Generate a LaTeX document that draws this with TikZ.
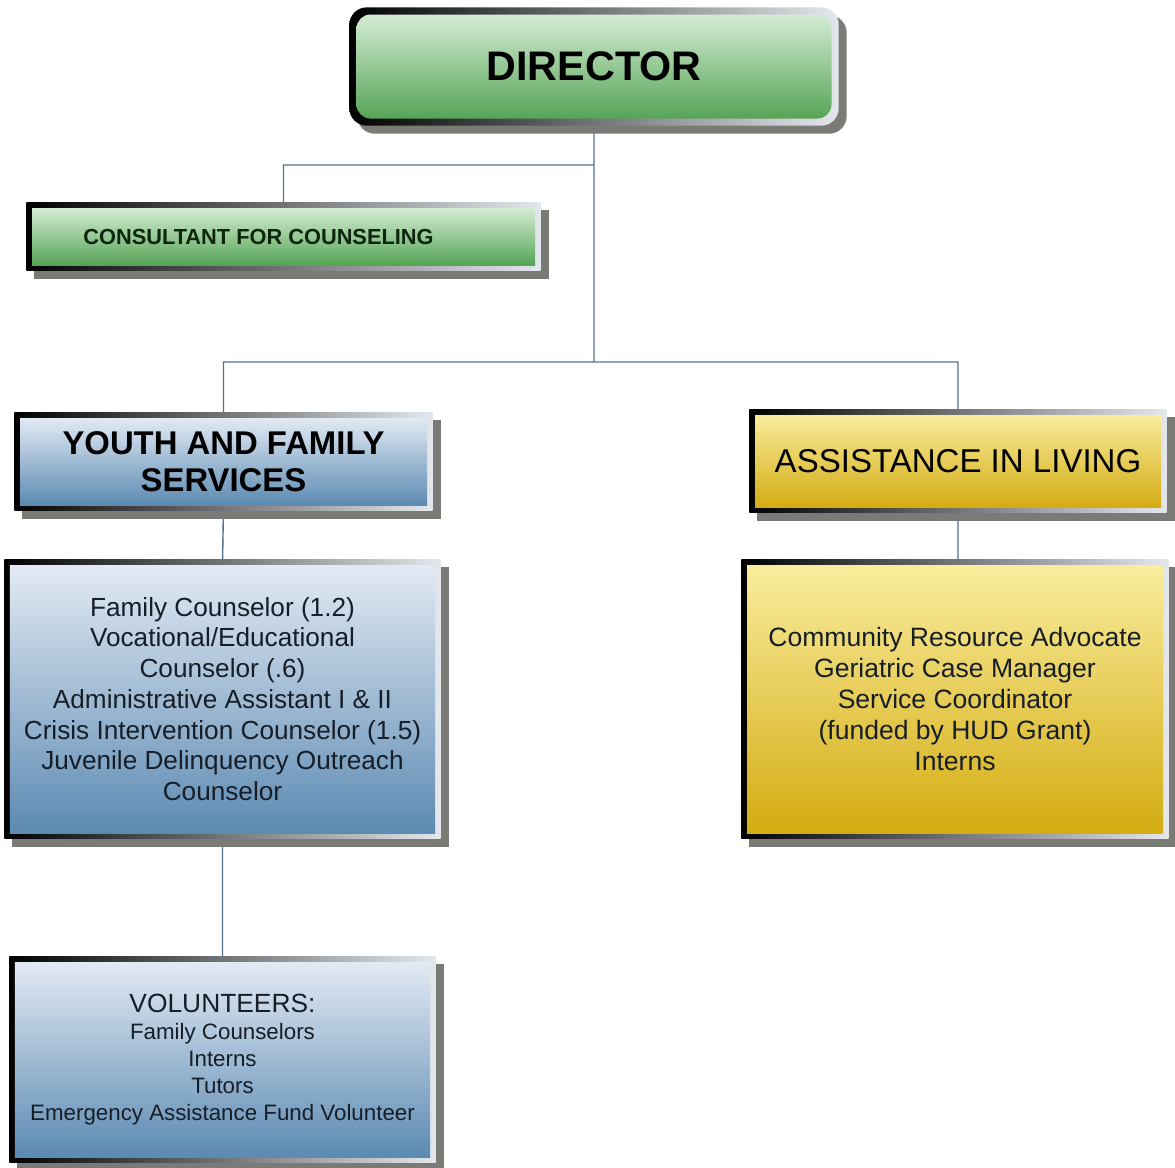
\documentclass[tikz,border=0pt]{standalone}
\usepackage{fontspec}
\setmainfont{Liberation Sans}
\usetikzlibrary{positioning}
\usetikzlibrary{backgrounds}
\usetikzlibrary{calc}

\definecolor{linkblue}{RGB}{84,112,140}
\definecolor{greentop}{RGB}{212,236,212}
\definecolor{greenbot}{RGB}{86,164,86}
\definecolor{bluetop}{RGB}{226,234,244}
\definecolor{bluebot}{RGB}{92,138,178}
\definecolor{yellowtop}{RGB}{249,236,156}
\definecolor{yellowbot}{RGB}{212,172,18}
\definecolor{shadowgray}{RGB}{122,122,118}
\definecolor{framelight}{RGB}{228,232,236}
\definecolor{textdark}{RGB}{22,30,40}
\definecolor{textgreen}{RGB}{14,38,14}

\begin{document}
\begin{tikzpicture}[thick,
  box/.style={rectangle,inner sep=2pt,align=center,text=textdark},
  green box/.style={box,top color=greentop,bottom color=greenbot},
  blue box/.style={box,top color=bluetop,bottom color=bluebot},
  yellow box/.style={box,top color=yellowtop,bottom color=yellowbot},
  link/.style={draw=linkblue,line width=0.8pt}]

  \useasboundingbox (0,0) rectangle (23.5,-23.34);

  % boxes
  \node[green box,rounded corners=8pt,minimum width=9.5cm,minimum height=2.08cm,
    font=\fontsize{23.5}{27}\selectfont\bfseries,text=black] (director) at (11.88,-1.33) {DIRECTOR};
  \node[green box,minimum width=10.06cm,minimum height=1.14cm,
    font=\fontsize{12.4}{14}\selectfont\bfseries,text=textgreen] (consult) at (5.67,-4.73)
    {CONSULTANT FOR COUNSELING\hspace*{1cm}};
  \node[blue box,minimum width=8.14cm,minimum height=1.74cm,
    font=\fontsize{18.7}{20.8}\selectfont\bfseries,text=black] (youth) at (4.47,-9.23) {YOUTH AND FAMILY\\SERVICES};
  \node[yellow box,minimum width=8.12cm,minimum height=1.84cm,
    font=\fontsize{18.8}{21}\selectfont,text=black] (assist) at (19.16,-9.22) {ASSISTANCE IN LIVING};
  \node[blue box,minimum width=8.5cm,minimum height=5.36cm,
    font=\fontsize{14.9}{17.5}\selectfont] (ydetail) at (4.45,-13.98)
    {Family Counselor (1.2)\\Vocational/Educational\\Counselor (.6)\\Administrative Assistant I \& II\\
     Crisis Intervention Counselor (1.5)\\Juvenile Delinquency Outreach\\Counselor};
  \node[yellow box,minimum width=8.32cm,minimum height=5.36cm,
    font=\fontsize{15.1}{17.5}\selectfont] (adetail) at (19.1,-13.98)
    {Community Resource Advocate\\Geriatric Case Manager\\Service Coordinator\\(funded by HUD Grant)\\Interns};
  \node[blue box,minimum width=8.3cm,minimum height=3.9cm,
    font=\fontsize{12.7}{15.3}\selectfont] (vol) at (4.45,-21.19)
    {{\fontsize{15}{17}\selectfont VOLUNTEERS:}\\Family Counselors\\Interns\\Tutors\\Emergency Assistance Fund Volunteer};

  \coordinate (spine) at (0,-7.24);
  \coordinate (knee) at (0,-3.3);
  \coordinate (split) at (director.south |- spine);
  \coordinate (tap) at (director.south |- knee);

  \begin{scope}[on background layer]
    % connectors
    \path[link] (director.south) -- (split)
      (consult.north) |- (tap)
      (youth.north) |- (split) -| (assist.north)
      (youth.south) -- (ydetail.north)
      (assist.south) -- (assist.south |- adetail.north)
      (ydetail.south) -- (vol.north);

    % shadows and frames
    \fill[shadowgray,rounded corners=10pt] ($(director.south west)+(0.03,-0.29)$) rectangle ($(director.north east)+(0.29,-0.03)$);
    \shade[left color=black,middle color=black!75,right color=framelight,rounded corners=10pt]
      ($(director.south west)+(-0.13,-0.13)$) rectangle ($(director.north east)+(0.13,0.13)$);
    \foreach \n in {consult,youth,assist,ydetail,adetail,vol}{
      \fill[shadowgray] ($(\n.south west)+(0.06,-0.26)$) rectangle ($(\n.north east)+(0.26,-0.06)$);
      \shade[left color=black,middle color=black!75,right color=framelight]
        ($(\n.south west)+(-0.1,-0.1)$) rectangle ($(\n.north east)+(0.1,0.1)$);
    }
  \end{scope}

\end{tikzpicture}
\end{document}
